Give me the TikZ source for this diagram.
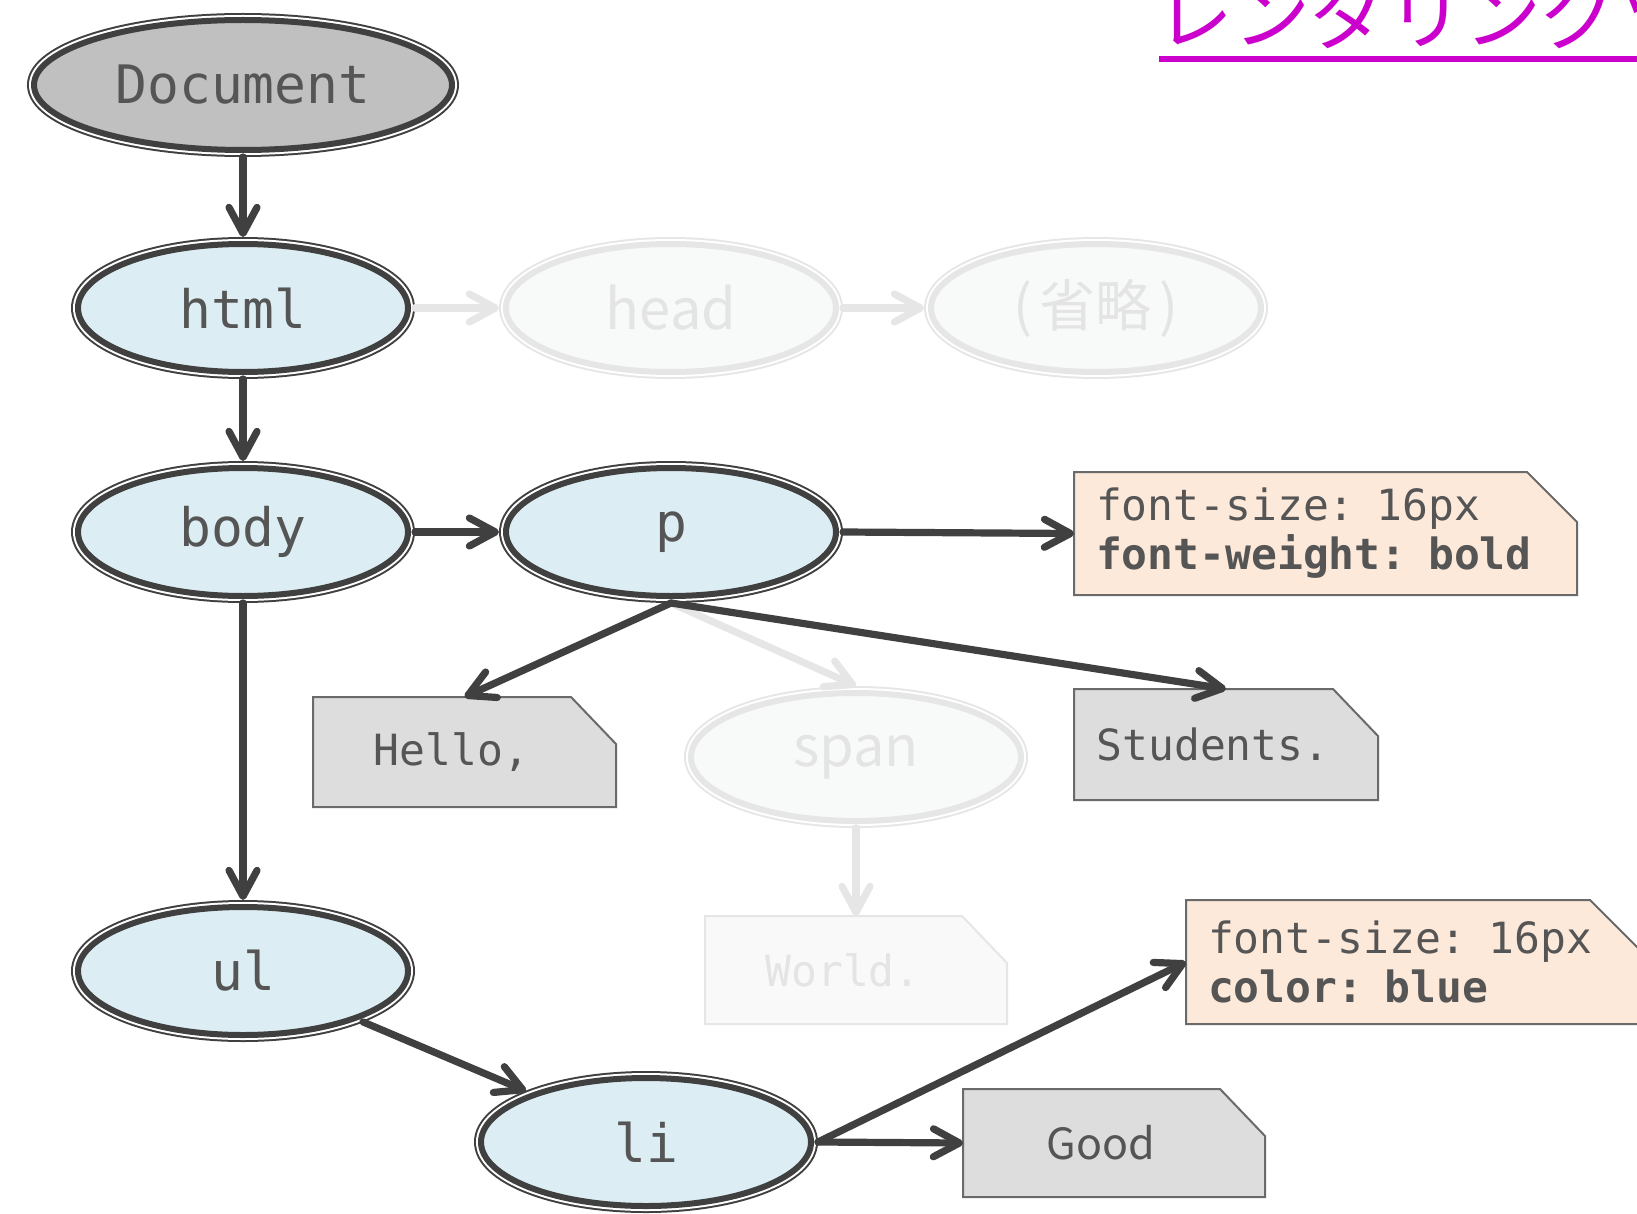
\documentclass[tikz,border=0pt]{standalone}
\usepackage{fontspec}
\setmonofont{DejaVu Sans Mono}
\newfontfamily\cjk{Noto Sans CJK JP}
\newfontfamily\plainsans{Noto Sans CJK JP}
\usetikzlibrary{shapes.geometric,arrows.meta,backgrounds}
\definecolor{edgec}{HTML}{404040}
\definecolor{txtc}{HTML}{555555}
\definecolor{bluefill}{HTML}{DCEEF4}
\definecolor{docfill}{HTML}{C0C0C0}
\definecolor{peach}{HTML}{FDE9DA}
\definecolor{boxfill}{HTML}{DDDDDD}
\definecolor{boxline}{HTML}{6A6A6A}
\definecolor{faintline}{HTML}{E6E6E6}
\definecolor{faintfill}{HTML}{F8F9F9}
\definecolor{fainttext}{HTML}{E4E4E4}
\definecolor{faintbox}{HTML}{F9F9F9}
\definecolor{titlec}{HTML}{CC00CC}
\tikzset{
  ell/.style={ellipse, inner sep=0pt, outer sep=3.5pt, minimum width=165pt, minimum height=64pt,
    preaction={draw=#1, line width=7pt},
    preaction={draw=white, line width=5pt},
    draw=#1, line width=3pt},
  darkell/.style={ell=edgec, fill=bluefill, text=txtc, font=\ttfamily\fontsize{26.5}{30}\selectfont},
  faintell/.style={ell=faintline, fill=faintfill, text=fainttext, font=\plainsans\fontsize{28}{30}\selectfont},
  arr/.style={draw=edgec, line width=3.6pt, line cap=round, -{Straight Barb[length=13pt,width=14pt,round]}},
  faintarr/.style={arr, draw=faintline},
  boxn/.style={rectangle, draw=none, inner sep=0pt, outer sep=0pt, text=txtc, font=\ttfamily\fontsize{21.5}{24.5}\selectfont},
  notebox/.style={boxn, align=left, inner xsep=11pt},
}
\newcommand\cutframe[5]{%
  \filldraw[fill=#2, draw=#3, line width=1pt, line join=miter]
    (#1.south west) -- (#1.north west) -- ([xshift=-#4]#1.north east)
    -- ([yshift=-#5]#1.north east) -- (#1.south east) -- cycle;}
\begin{document}
\begin{tikzpicture}[x=0.5pt,y=-0.5pt]
\useasboundingbox (0,0) rectangle (1637,1214);

% title
\node[anchor=base west, inner sep=0pt, text=titlec, font=\cjk\fontsize{38.5}{40}\selectfont] (title) at (1156,44) {レンダリングツリー};
\draw[titlec, line width=3pt] ([xshift=1.5pt,yshift=-7.5pt]title.base west) -- ++(600,0);

% ellipses
\node[ell=edgec, fill=docfill, text=txtc, font=\ttfamily\fontsize{26.5}{30}\selectfont,
      minimum width=209pt, minimum height=65pt] (doc) at (243,85) {Document};
\node[darkell] (html) at (243,308) {html};
\node[faintell] (head) at (671,308) {head};
\node[faintell] (omit) at (1096,308) {(\kern4pt省略\kern4pt)};
\node[darkell] (body) at (243,532) {body};
\node[darkell] (p) at (671,532) {p};
\node[faintell] (span) at (856,757) {span};
\node[darkell] (ul) at (243,971) {ul};
\node[darkell] (li) at (646,1142) {li};

% boxes
\node[notebox, minimum height=61.5pt, text width=229.5pt] (style1) at (1325.5,533.5)
  {font-size: 16px\\\textbf{font-weight: bold}};
\node[boxn, minimum width=151.5pt, minimum height=55pt] (hello) at (464.5,752) {Hello,\kern13pt};
\node[boxn, minimum width=152pt, minimum height=55.5pt] (students) at (1226,744.5) {Students.\kern13pt};
\node[boxn, minimum width=151pt, minimum height=54pt, text=fainttext] (world) at (856,970) {World.\kern13pt};
\node[notebox, minimum height=62pt, text width=205pt] (style2) at (1413,962)
  {font-size: 16px\\\textbf{color: blue}};
\node[boxn, minimum width=151pt, minimum height=54pt, font=\plainsans\fontsize{21.5}{24.5}\selectfont] (good) at (1114,1143) {Good\kern13pt};

\begin{scope}[on background layer]
  \cutframe{style1}{peach}{boxline}{25pt}{25pt}
  \cutframe{hello}{boxfill}{boxline}{22.5pt}{23.5pt}
  \cutframe{students}{boxfill}{boxline}{22.5pt}{23.5pt}
  \cutframe{world}{faintbox}{faintline}{22.5pt}{23.5pt}
  \cutframe{style2}{peach}{boxline}{25pt}{25pt}
  \cutframe{good}{boxfill}{boxline}{22.5pt}{23.5pt}
\end{scope}

% faint edges
\draw[faintarr] (html) -- (head);
\draw[faintarr] (head) -- (omit);
\draw[faintarr] (p.south) -- (span.north);
\draw[faintarr] (span) -- (world);
% dark edges
\draw[arr] (doc) -- (html);
\draw[arr] (html) -- (body);
\draw[arr] (body) -- (p);
\draw[arr] (body) -- (ul);
\draw[arr] (p.east) -- (style1.west);
\draw[arr] (p.south) -- (hello.north);
\draw[arr] (p.south) -- (students.north);
\draw[arr] (ul) -- (li);
\draw[arr] (li.east) -- (style2.west);
\draw[arr] (li.east) -- (good.west);
\end{tikzpicture}
\end{document}
